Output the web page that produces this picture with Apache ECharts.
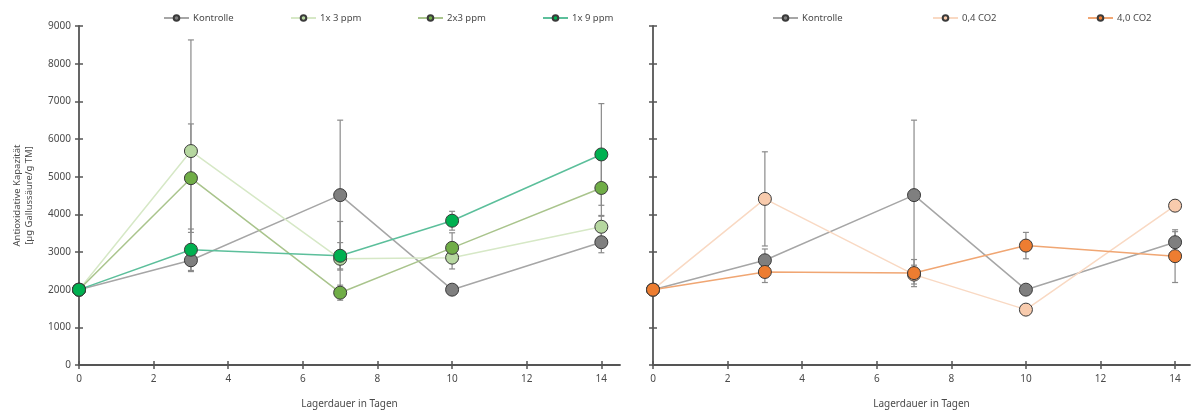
<!DOCTYPE html>
<html>
<head>
<meta charset="utf-8">
<script src="https://cdn.jsdelivr.net/npm/echarts@6/dist/echarts.min.js"></script>
<style>
  html, body { margin: 0; padding: 0; background: #fff; }
  #chart { width: 1192px; height: 414px; }
</style>
</head>
<body>
<div id="chart"></div>
<script>
// storage days (x) and tick labels
const days = [0, 3, 7, 10, 14];
const xTickValues = [0, 2, 4, 6, 8, 10, 12, 14];

// left panel: ozone treatments
const kontrolle = [2000, 2780, 4510, 2000, 3260];
const kontrolleErr = [60, 300, 1990, 60, 280];
const ppm1x3 = [2000, 5680, 2820, 2850, 3670];
const ppm1x3Err = [60, 2950, 990, 300, 300];
const ppm2x3 = [2000, 4960, 1920, 3110, 4700];
const ppm2x3Err = [60, 1440, 200, 400, 750];
const ppm1x9 = [2000, 3060, 2900, 3830, 5590];
const ppm1x9Err = [60, 550, 350, 250, 1350];

// right panel: CO2 treatments
const co2low = [2000, 4410, 2400, 1470, 4230];
const co2lowErr = [60, 1250, 250, 100, 150];
const co2high = [2000, 2470, 2440, 3170, 2890];
const co2highErr = [60, 280, 360, 350, 700];

const FONT = "Noto Sans";
const AXIS_COLOR = "#555555";
const TEXT_COLOR = "#4a4a4a";
const ERR_COLOR = "#8a8a8a";

const chart = echarts.init(document.getElementById("chart"));

function lineSeries(name, vals, panel, fill, line) {
  return {
    type: "line",
    name: name,
    xAxisIndex: panel * 2,
    yAxisIndex: panel * 2,
    data: days.map((d, i) => [d, vals[i]]),
    symbol: "circle",
    symbolSize: 13,
    itemStyle: { color: fill, borderColor: "#3a3a3a", borderWidth: 1 },
    lineStyle: { color: line, width: 1.5 },
    z: 3,
    animation: false,
  };
}

function errorSeries(vals, errs, panel) {
  return {
    type: "custom",
    xAxisIndex: panel * 2,
    yAxisIndex: panel * 2,
    silent: true,
    z: 2,
    data: days.map((d, i) => [d, vals[i], errs[i]]),
    encode: { x: 0, y: 1 },
    renderItem: function (params, api) {
      const x = api.value(0);
      const y = api.value(1);
      const e = api.value(2);
      const top = api.coord([x, y + e]);
      const bot = api.coord([x, y - e]);
      const w = 3;
      const style = { stroke: ERR_COLOR, lineWidth: 1.2 };
      return {
        type: "group",
        children: [
          { type: "line", shape: { x1: top[0], y1: top[1], x2: bot[0], y2: bot[1] }, style: style },
          { type: "line", shape: { x1: top[0] - w, y1: top[1], x2: top[0] + w, y2: top[1] }, style: style },
          { type: "line", shape: { x1: bot[0] - w, y1: bot[1], x2: bot[0] + w, y2: bot[1] }, style: style },
        ],
      };
    },
    animation: false,
  };
}

function xAxes(grid, max) {
  return [
    {
      type: "value",
      gridIndex: grid,
      min: 0,
      max: max,
      interval: 2,
      name: "Lagerdauer in Tagen",
      nameLocation: "middle",
      nameGap: 34,
      nameTextStyle: { fontFamily: FONT, fontSize: 10, color: TEXT_COLOR },
      axisLine: { show: true, onZero: false, lineStyle: { color: AXIS_COLOR, width: 1.8 } },
      axisTick: { show: true, length: 4, customValues: xTickValues, lineStyle: { color: AXIS_COLOR, width: 1.5 } },
      axisLabel: { customValues: xTickValues, margin: 9, fontFamily: FONT, fontSize: 10, color: TEXT_COLOR },
      splitLine: { show: false },
    },
    {
      type: "value",
      gridIndex: grid,
      position: "bottom",
      min: 0,
      max: max,
      interval: 2,
      axisLine: { show: false },
      axisTick: { show: true, inside: true, length: 4, customValues: xTickValues, lineStyle: { color: AXIS_COLOR, width: 1.5 } },
      axisLabel: { show: false },
      splitLine: { show: false },
    },
  ];
}

function yAxes(grid, showLabels) {
  return [
    {
      type: "value",
      gridIndex: grid,
      min: 0,
      max: 9000,
      interval: 1000,
      name: showLabels ? "Antioxidative Kapazität\n[µg Gallussäure/g TM]" : "",
      nameLocation: "middle",
      nameGap: 44,
      nameRotate: 90,
      nameTextStyle: { fontFamily: FONT, fontSize: 9.5, color: TEXT_COLOR, lineHeight: 12 },
      axisLine: { show: true, lineStyle: { color: AXIS_COLOR, width: 1.8 } },
      axisTick: { show: true, length: 4, lineStyle: { color: AXIS_COLOR, width: 1.5 } },
      axisLabel: {
        show: showLabels,
        margin: 8,
        fontFamily: FONT,
        fontSize: 10,
        color: TEXT_COLOR,
        formatter: (v) => String(v),
      },
      splitLine: { show: false },
    },
    {
      type: "value",
      gridIndex: grid,
      position: "left",
      min: 0,
      max: 9000,
      interval: 1000,
      axisLine: { show: false },
      axisTick: { show: true, inside: true, length: 4, lineStyle: { color: AXIS_COLOR, width: 1.5 } },
      axisLabel: { show: false },
      splitLine: { show: false },
    },
  ];
}

function legendItem(name, left) {
  return {
    data: [name],
    left: left,
    top: 13,
    itemWidth: 25,
    itemHeight: 7,
    itemGap: 0,
    padding: 0,
    textStyle: { fontFamily: FONT, fontSize: 9.5, color: TEXT_COLOR, padding: [0, 0, 0, -1] },
    selectedMode: false,
  };
}

const option = {
  animation: false,
  backgroundColor: "#ffffff",
  grid: [
    { left: 79, top: 26, width: 541, height: 344 },
    { left: 653, top: 26, width: 537, height: 344 },
  ],
  xAxis: [...xAxes(0, 14.5), ...xAxes(1, 14.4)],
  yAxis: [...yAxes(0, true), ...yAxes(1, false)],
  legend: [
    legendItem("Kontrolle", 163),
    legendItem("1x 3 ppm", 290),
    legendItem("2x3 ppm", 417),
    legendItem("1x 9 ppm", 542),
    legendItem("Kontrolle ", 772),
    legendItem("0,4 CO2", 932),
    legendItem("4,0 CO2", 1087),
  ],
  series: [
    errorSeries(kontrolle, kontrolleErr, 0),
    errorSeries(ppm1x3, ppm1x3Err, 0),
    errorSeries(ppm2x3, ppm2x3Err, 0),
    errorSeries(ppm1x9, ppm1x9Err, 0),
    lineSeries("Kontrolle", kontrolle, 0, "#7f7f7f", "#a6a6a6"),
    lineSeries("1x 3 ppm", ppm1x3, 0, "#b6d7a0", "#d6e8c6"),
    lineSeries("2x3 ppm", ppm2x3, 0, "#70ad47", "#a9c48c"),
    lineSeries("1x 9 ppm", ppm1x9, 0, "#00b050", "#5cbf9b"),

    errorSeries(kontrolle, kontrolleErr, 1),
    errorSeries(co2low, co2lowErr, 1),
    errorSeries(co2high, co2highErr, 1),
    lineSeries("Kontrolle ", kontrolle, 1, "#7f7f7f", "#a6a6a6"),
    lineSeries("0,4 CO2", co2low, 1, "#f8cbad", "#f9d9c3"),
    lineSeries("4,0 CO2", co2high, 1, "#ed7d31", "#f0a673"),
  ],
};

chart.setOption(option);
</script>
</body>
</html>
